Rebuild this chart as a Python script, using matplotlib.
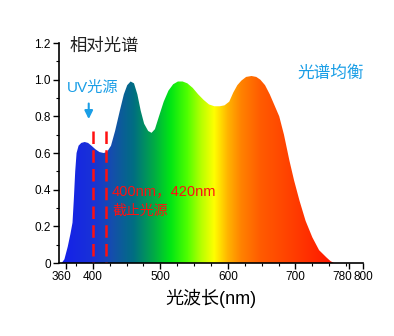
import numpy as np
import matplotlib
matplotlib.use('Agg')
import matplotlib.pyplot as plt
import matplotlib.transforms as mtransforms
from matplotlib.colors import LinearSegmentedColormap

plt.rcParams['font.family'] = ['Liberation Sans', 'Noto Sans CJK SC', 'DejaVu Sans']

# spectrum
wavelength = [354, 358, 363, 367, 370, 372, 374, 376, 379, 383, 388, 393, 398, 404, 410, 416,
              421, 427, 433, 440, 446, 451, 456, 461, 466, 471, 476, 482, 487, 492, 498, 505,
              512, 519, 526, 533, 540, 548, 556, 564, 572, 580, 588, 595, 602, 608, 614, 620,
              627, 635, 642, 648, 655, 662, 669, 676, 683, 691, 698, 706, 715, 725, 735, 746,
              752, 757]
relative = [0.00, 0.02, 0.09, 0.16, 0.22, 0.35, 0.50, 0.60, 0.64, 0.655, 0.66, 0.655, 0.64, 0.62,
            0.605, 0.60, 0.605, 0.64, 0.72, 0.83, 0.92, 0.97, 0.99, 0.98, 0.92, 0.83, 0.76, 0.72,
            0.71, 0.73, 0.80, 0.88, 0.94, 0.975, 0.99, 0.99, 0.98, 0.955, 0.92, 0.89, 0.865,
            0.855, 0.855, 0.86, 0.88, 0.93, 0.97, 0.995, 1.015, 1.02, 1.015, 1.00, 0.97, 0.92,
            0.86, 0.80, 0.70, 0.56, 0.45, 0.34, 0.23, 0.14, 0.07, 0.03, 0.01, 0.00]

cutoffs = [400, 420]
xticks = [360, 400, 500, 600, 700, 780, 800]
yticks = [0, 0.2, 0.4, 0.6, 0.8, 1.0, 1.2]
yticklabels = ['0', '0.2', '0.4', '0.6', '0.8', '1.0', '1.2']

# colour stops along the wavelength axis
stops_nm = [350, 400, 430, 460, 490, 515, 540, 560, 580, 600, 620, 650, 700, 760]
stops_rgb = [(20, 30, 235), (25, 50, 215), (20, 80, 170), (0, 110, 130), (0, 170, 70),
             (0, 230, 20), (80, 255, 0), (180, 255, 0), (255, 255, 0), (255, 180, 0),
             (255, 130, 0), (255, 90, 0), (255, 60, 0), (255, 20, 0)]

W, H = 394, 336
fig = plt.figure(figsize=(W / 100, H / 100), dpi=100)
ax = fig.add_axes([59 / W, 1 - 263 / H, (363 - 59) / W, (263 - 43) / H])

xmin, xmax = 350, 800
pos = [(n - stops_nm[0]) / (stops_nm[-1] - stops_nm[0]) for n in stops_nm]
cmap = LinearSegmentedColormap.from_list(
    'spec', list(zip(pos, [tuple(c / 255 for c in rgb) for rgb in stops_rgb])))

grad = np.linspace(0, 1, 512).reshape(1, -1)
im = ax.imshow(grad, cmap=cmap, aspect='auto', extent=[stops_nm[0], stops_nm[-1], 0, 1.2],
               origin='lower', zorder=1)
poly = ax.fill_between(wavelength, relative, 0, color='none', lw=0)
clip = poly.get_paths()[0]
im.set_clip_path(clip, transform=ax.transData)

# dashes start from the top of each cut-off line
for c in cutoffs:
    ax.plot([c, c], [0.72, 0], color='#ff1010', lw=1.8, dashes=(5, 2.5), zorder=3)

ax.set_xlim(xmin, xmax)
ax.set_ylim(0, 1.2)
ax.set_xticks(xticks)
ax.set_xticklabels([str(t) for t in xticks])
ax.set_xticks(np.arange(375, 800, 25), minor=True)
ax.set_yticks(yticks)
ax.set_yticklabels(yticklabels)
ax.set_yticks(np.arange(0.1, 1.2, 0.2), minor=True)
for s in ['top', 'right']:
    ax.spines[s].set_visible(False)
for s in ['left', 'bottom']:
    ax.spines[s].set_linewidth(1.2)
ax.tick_params(which='major', direction='out', length=4, width=1, labelsize=8.5, pad=2)
ax.tick_params(which='minor', direction='out', length=2, width=0.8)
ax.set_xlabel('光波长(nm)', fontsize=13, labelpad=4)

# 780 and 800 sit close together; nudge the 780 label left a bit
lbl780 = ax.get_xticklabels()[xticks.index(780)]
lbl780.set_transform(lbl780.get_transform() +
                     mtransforms.ScaledTranslation(-7 / 100, 0, fig.dpi_scale_trans))
lbl360 = ax.get_xticklabels()[xticks.index(360)]
lbl360.set_transform(lbl360.get_transform() +
                     mtransforms.ScaledTranslation(-4 / 100, 0, fig.dpi_scale_trans))

def px(x, y):
    return x / W, 1 - y / H

fig.text(*px(70, 46), '相对光谱', fontsize=12.5, va='center', ha='left', color='#222222')
fig.text(*px(67, 88), 'UV光源', fontsize=11, va='center', ha='left', color='#1a9ee6')
fig.text(*px(297, 73), '光谱均衡', fontsize=12, va='center', ha='left', color='#1a9ee6')
fig.text(*px(112, 191), '400nm，420nm', fontsize=10.5, va='center', ha='left', color='#ff1010')
fig.text(*px(112, 211), '截止光源', fontsize=10, va='center', ha='left', color='#ff1010')
ax.annotate('', xy=(394, 0.77), xytext=(394, 0.885),
            arrowprops=dict(arrowstyle='-|>', color='#1a9ee6', lw=1.5, mutation_scale=12))

fig.savefig('out.png', dpi=100)
